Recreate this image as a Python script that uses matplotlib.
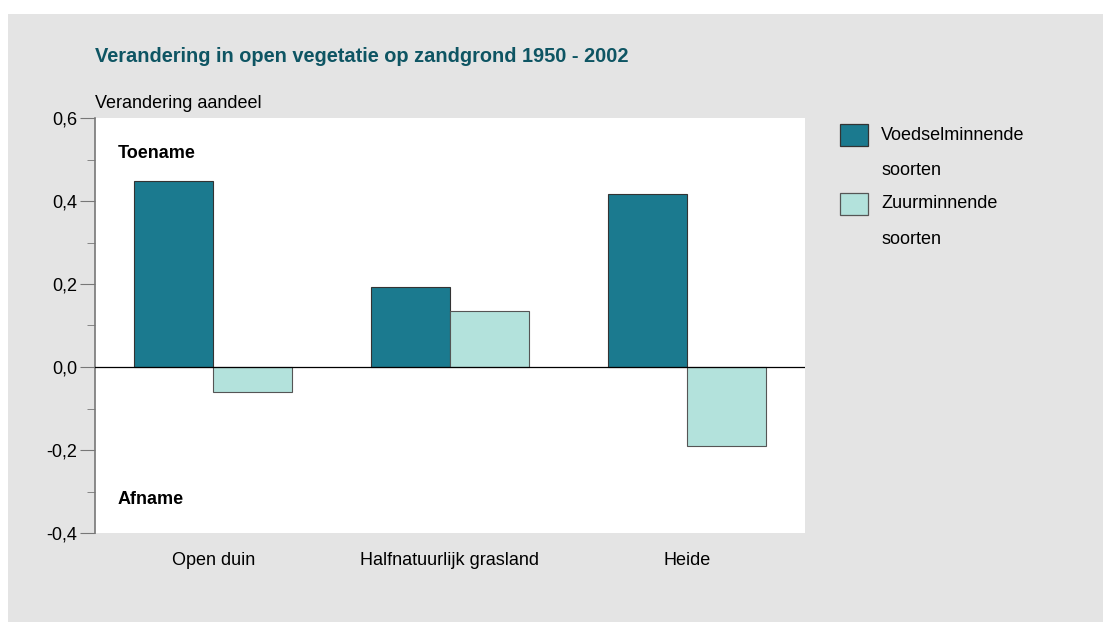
import matplotlib
matplotlib.use("Agg")
import matplotlib.pyplot as plt
from matplotlib.patches import Rectangle
from matplotlib.ticker import MultipleLocator, FuncFormatter
import numpy as np

plt.rcParams['font.family'] = ['Liberation Sans Narrow', 'Liberation Sans', 'DejaVu Sans']

# data
categories = ["Open duin", "Halfnatuurlijk grasland", "Heide"]
voedsel = [0.448, 0.193, 0.417]
zuur = [-0.060, 0.135, -0.190]
series_names = ["Voedselminnende\nsoorten", "Zuurminnende\nsoorten"]

dark = "#1b7a8f"
light = "#b3e2dc"
gray_bg = "#e4e4e4"

W, H = 1103, 628
fig = plt.figure(figsize=(W / 100, H / 100), dpi=100)
fig.patch.set_facecolor("white")
fig.patches.append(Rectangle((8 / W, 6 / H), 1 - 8 / W, (622 - 14) / H,
                             transform=fig.transFigure, facecolor=gray_bg,
                             edgecolor="none", zorder=-10))

ax = fig.add_axes([95 / W, 1 - 533 / H, 710 / W, 415 / H])
ax.set_facecolor("white")

x = np.arange(len(categories))
bw = 0.334
ax.bar(x - bw / 2, voedsel, bw, color=dark, edgecolor="#333333", linewidth=0.8,
       zorder=2)
ax.bar(x + bw / 2, zuur, bw, color=light, edgecolor="#555555", linewidth=0.8,
       zorder=2)
ax.axhline(0, color="black", linewidth=0.9, zorder=3)

ax.set_xlim(-0.5, 2.5)
ax.set_ylim(-0.4, 0.6)
ax.set_xticks(x)
ax.set_xticklabels(categories, fontsize=13)
ax.tick_params(axis="x", length=0, pad=14)

ax.yaxis.set_major_locator(MultipleLocator(0.2))
ax.yaxis.set_minor_locator(MultipleLocator(0.1))
ax.yaxis.set_major_formatter(FuncFormatter(lambda v, p: ("%.1f" % v).replace(".", ",").replace("-0,0", "0,0")))
ax.tick_params(axis="y", which="major", length=11, color="#777777", labelsize=13, pad=2)
ax.tick_params(axis="y", which="minor", length=6, color="#777777")

for s in ["top", "right", "bottom"]:
    ax.spines[s].set_visible(False)
ax.spines["left"].set_color("#777777")
ax.spines["left"].set_linewidth(1.2)

ax.text(23 / 710, 1 - 35 / 415, "Toename", transform=ax.transAxes,
        fontsize=13, fontweight="bold", va="center", ha="left")
ax.text(23 / 710, 1 - 382 / 415, "Afname", transform=ax.transAxes,
        fontsize=13, fontweight="bold", va="center", ha="left")

fig.text(95 / W, 1 - 57 / H, "Verandering in open vegetatie op zandgrond 1950 - 2002",
         fontsize=14.4, fontweight="bold", color="#0e5563", va="center", ha="left")
fig.text(95 / W, 1 - 103 / H, "Verandering aandeel", fontsize=13,
         va="center", ha="left")

# legend drawn by hand: square key next to first line of a two-line label
for i, (name, col, ec) in enumerate(zip(series_names, [dark, light],
                                        ["#333333", "#555555"])):
    top = 124 + i * 69
    fig.patches.append(Rectangle((840 / W, 1 - (top + 22) / H), 28 / W, 22 / H,
                                 transform=fig.transFigure, facecolor=col,
                                 edgecolor=ec, linewidth=0.9))
    for j, line in enumerate(name.split("\n")):
        fig.text(881 / W, 1 - (top + 11 + 35 * j) / H, line, fontsize=13,
                 va="center", ha="left")

fig.savefig("out.png", dpi=100)
